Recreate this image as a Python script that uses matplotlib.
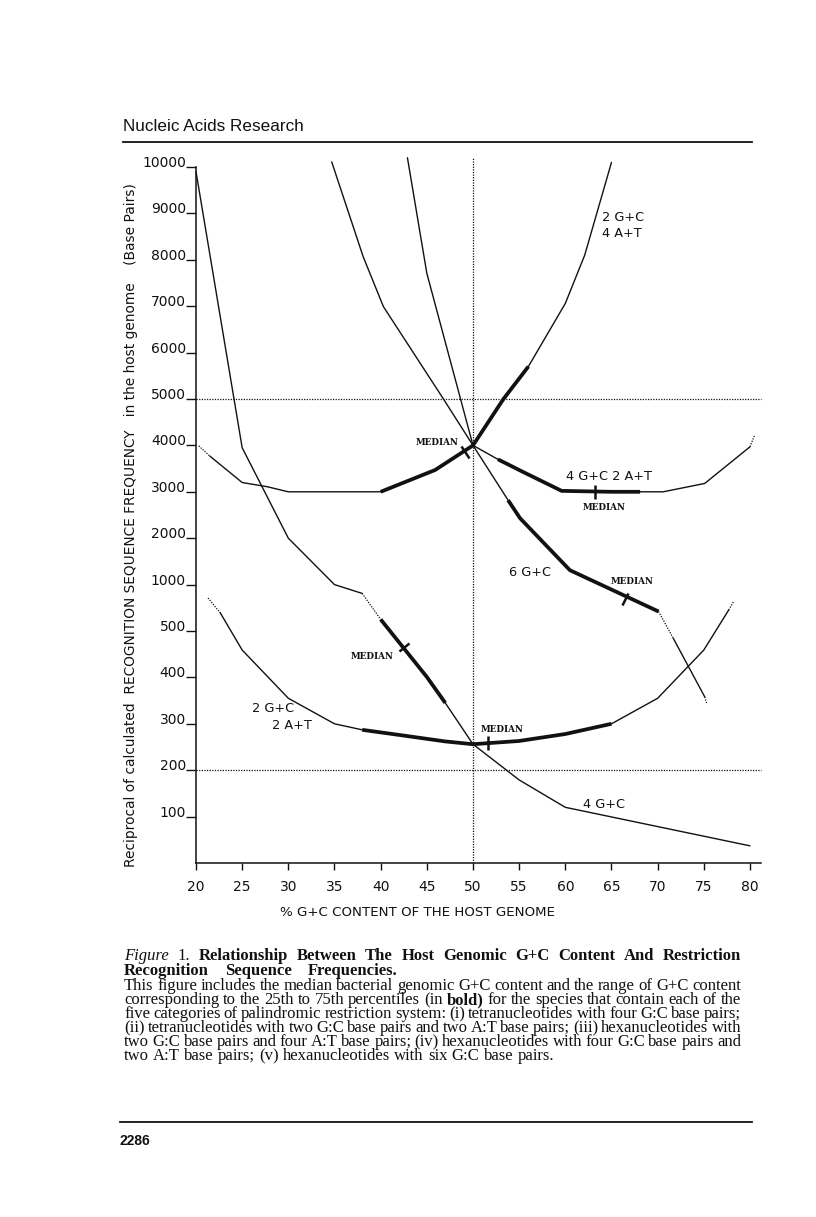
#!/usr/bin/env python3
"""Redraw Figure 1: host genomic G+C content vs. recognition sequence frequency."""

import math

import matplotlib

matplotlib.use("Agg")
import matplotlib.pyplot as plt
import numpy as np
from matplotlib.lines import Line2D
from matplotlib.markers import MarkerStyle
from matplotlib.transforms import Affine2D

W, H = 816, 1217

# --- data: % G+C content vs. reciprocal frequency (bp) ---
GC4_X = [20, 25, 30, 35, 38, 40, 45, 47, 50, 55, 60, 80]
GC4_Y = [9900, 3950, 2000, 1000, 905, 625, 401, 345, 256, 179, 120, 37]
GC4_BOLD = (40, 47)
GC4_DOTTED = [(38, 40)]
GC4_MEDIAN = (42.5, 466)

GC2AT2_X = [21.3, 22.6, 25, 30, 35, 38, 42, 47, 50, 55, 60, 65, 70, 75, 77.7, 78.2]
GC2AT2_Y = [855, 700, 459, 355, 300, 287, 276, 262, 256, 263, 278, 300, 355, 459, 727, 815]
GC2AT2_BOLD = (38, 65)
GC2AT2_DOTTED = [(21.3, 22.6), (77.7, 78.2)]
GC2AT2_MEDIAN = (51.6, 258)

GC2AT4_X = [20.3, 21.5, 25, 27.7, 30, 35, 40, 45.9, 50, 53.3, 56, 60, 62.1, 65]
GC2AT4_Y = [3990, 3770, 3200, 3110, 3000, 3000, 3000, 3470, 4000, 5000, 5700, 7060, 8100, 10100]
GC2AT4_BOLD = (40, 56)
GC2AT4_DOTTED = [(20.3, 21.5)]
GC2AT4_MEDIAN = (49.1, 3860)

GC4AT2_X = [34.7, 38.1, 40.3, 46.8, 50, 52.7, 55.4, 59.6, 65, 68.1, 70.6, 75.1, 80, 80.5]
GC4AT2_Y = [10110, 8070, 6990, 5000, 4000, 3700, 3430, 3020, 3000, 3000, 3000, 3180, 3970, 4220]
GC4AT2_BOLD = (52.7, 68.1)
GC4AT2_DOTTED = [(80, 80.5)]
GC4AT2_MEDIAN = (63.2, 3000)

GC6_X = [42.9, 45, 50, 53.8, 55.1, 60.5, 70.1, 71.7, 75.1, 75.3]
GC6_Y = [10200, 7710, 4000, 2820, 2430, 1310, 710, 484, 358, 345]
GC6_BOLD = (53.8, 70.1)
GC6_DOTTED = [(70.1, 71.7), (75.1, 75.3)]
GC6_MEDIAN = (66.5, 850)

X_TICKS = list(range(20, 81, 5))
Y_TICKS = [100, 200, 300, 400, 500, 1000, 2000, 3000, 4000, 5000,
           6000, 7000, 8000, 9000, 10000]
REF_Y = [5000, 200]
REF_X = 50

CAPTION = [
    "Figure 1. Relationship Between The Host Genomic G+C Content And Restriction",
    "Recognition Sequence Frequencies.",
    "This figure includes the median bacterial genomic G+C content and the range of G+C content",
    "corresponding to the 25th to 75th percentiles (in bold) for the species that contain each of the",
    "five categories of palindromic restriction system: (i) tetranucleotides with four G:C base pairs;",
    "(ii) tetranucleotides with two G:C base pairs and two A:T base pairs; (iii) hexanucleotides with",
    "two G:C base pairs and four A:T base pairs; (iv) hexanucleotides with four G:C base pairs and",
    "two A:T base pairs; (v) hexanucleotides with six G:C base pairs.",
]

THIN = dict(color="#111111", lw=1.0, solid_capstyle="round")
BOLD = dict(color="#111111", lw=2.7, solid_capstyle="butt")
DOTS = dict(color="#111111", lw=0.9, ls=(0, (1, 1.1)))
SANS = "DejaVu Sans"
SERIF = "Liberation Serif"


def fwd(v):
    # the original axis is stretched in three linear pieces
    v = np.asarray(v, dtype=float)
    return np.where(v <= 500, v / 100,
                    np.where(v <= 1000, 5 + (v - 500) / 500, 6 + (v - 1000) / 1000))


def inv(i):
    i = np.asarray(i, dtype=float)
    return np.where(i <= 5, i * 100,
                    np.where(i <= 6, 500 + (i - 5) * 500, 1000 + (i - 6) * 1000))


def fx(px):
    return px / W


def fy(py):
    return 1 - py / H


def draw_curve(ax, xs, ys, bold, dotted):
    styles = []
    for a, b in zip(xs[:-1], xs[1:]):
        mid = (a + b) / 2
        if bold[0] <= mid <= bold[1]:
            styles.append("bold")
        elif any(lo <= mid <= hi for lo, hi in dotted):
            styles.append("dots")
        else:
            styles.append("thin")
    kw = {"thin": THIN, "bold": BOLD, "dots": DOTS}
    start = 0
    for i in range(1, len(styles) + 1):
        if i == len(styles) or styles[i] != styles[start]:
            ax.plot(xs[start:i + 1], ys[start:i + 1], clip_on=False, **kw[styles[start]])
            start = i


def draw_median(ax, xs, ys, median, label_xy):
    mx, my = median
    for i in range(len(xs) - 1):
        if xs[i] <= mx <= xs[i + 1]:
            break
    p0 = ax.transData.transform((xs[i], ys[i]))
    p1 = ax.transData.transform((xs[i + 1], ys[i + 1]))
    angle = math.degrees(math.atan2(p1[1] - p0[1], p1[0] - p0[0]))
    marker = MarkerStyle("|", transform=Affine2D().rotate_deg(angle))
    ax.plot([mx], [my], marker=marker, ms=10, mew=1.8, color="#111111", clip_on=False)
    ax.text(*label_xy, "MEDIAN", fontsize=6.3, family="DejaVu Serif", weight="bold",
            ha="center", va="center", color="#111111")


def caption_line(fig, renderer, text, base_py, x0, x1, weight, size):
    words = text.split(" ")
    arts = []
    for w in words:
        wt, st = weight, "normal"
        if w == "Figure":
            wt, st = "normal", "italic"
        elif w == "1.":
            wt = "normal"
        elif w == "bold)":
            wt = "bold"
        arts.append(fig.text(0, fy(base_py), w, family=SERIF, fontsize=size,
                             weight=wt, style=st, va="baseline", color="#111111"))
    widths = [a.get_window_extent(renderer).width for a in arts]
    if x1 is None:
        gap = 0.25 * size * 100 / 72
    else:
        gap = (x1 - x0 - sum(widths)) / (len(words) - 1)
    x = x0
    for a, w in zip(arts, widths):
        a.set_x(fx(x))
        x += w + gap


def main():
    fig = plt.figure(figsize=(W / 100, H / 100), dpi=100)
    fig.patch.set_facecolor("white")

    top_idx = 15.2
    left, right = 196, 196 + 61.2 * 9.233
    bottom, top = 863, 863 - top_idx * 46.4
    ax = fig.add_axes([fx(left), fy(bottom), (right - left) / W, (bottom - top) / H])
    ax.set_yscale("function", functions=(fwd, inv))
    ax.set_xlim(20, 81.2)
    ax.set_ylim(0, float(inv(top_idx)))

    for side in ("top", "right"):
        ax.spines[side].set_visible(False)
    for side in ("left", "bottom"):
        ax.spines[side].set_linewidth(1.1)
        ax.spines[side].set_color("#111111")
    ax.spines["left"].set_bounds(0, 10000)
    ax.spines["bottom"].set_bounds(20, 81.2)

    ax.set_xticks(X_TICKS)
    ax.set_xticklabels([str(v) for v in X_TICKS])
    ax.set_yticks(Y_TICKS)
    ax.set_yticklabels([str(v) for v in Y_TICKS])
    ax.yaxis.set_minor_locator(matplotlib.ticker.NullLocator())
    ax.tick_params(axis="y", direction="out", length=7.2, width=1.0, pad=0,
                   labelsize=10, colors="#111111")
    ax.tick_params(axis="x", direction="out", length=5, width=1.0, pad=7,
                   labelsize=10, colors="#111111")
    for lab in ax.get_yticklabels():
        lab.set_verticalalignment("baseline")
        lab.set_family(SANS)

    for yv in REF_Y:
        ax.plot([20, 81.2], [yv, yv], clip_on=False, **DOTS)
    ax.plot([REF_X, REF_X], [0, float(inv(top_idx))], clip_on=False, **DOTS)

    curves = [
        (GC4_X, GC4_Y, GC4_BOLD, GC4_DOTTED, GC4_MEDIAN, (39.06, 446)),
        (GC2AT2_X, GC2AT2_Y, GC2AT2_BOLD, GC2AT2_DOTTED, GC2AT2_MEDIAN, (53.14, 287)),
        (GC2AT4_X, GC2AT4_Y, GC2AT4_BOLD, GC2AT4_DOTTED, GC2AT4_MEDIAN, (46.16, 4060)),
        (GC4AT2_X, GC4AT2_Y, GC4AT2_BOLD, GC4AT2_DOTTED, GC4AT2_MEDIAN, (64.19, 2670)),
        (GC6_X, GC6_Y, GC6_BOLD, GC6_DOTTED, GC6_MEDIAN, (67.22, 1060)),
    ]
    for xs, ys, bold, dotted, median, lab_xy in curves:
        draw_curve(ax, xs, ys, bold, dotted)
        draw_median(ax, xs, ys, median, lab_xy)

    lab = dict(fontsize=9.3, family=SANS, color="#111111", va="center")
    ax.text(63.97, 8920, "2 G+C", ha="left", **lab)
    ax.text(63.97, 8560, "4 A+T", ha="left", **lab)
    ax.text(64.73, 3320, "4 G+C 2 A+T", ha="center", **lab)
    ax.text(56.17, 1255, "6 G+C", ha="center", **lab)
    ax.text(28.34, 334, "2 G+C", ha="center", **lab)
    ax.text(30.4, 297, "2 A+T", ha="center", **lab)
    ax.text(64.19, 127, "4 G+C", ha="center", **lab)

    fig.text(fx(131), fy(525),
             "Reciprocal of calculated  RECOGNITION SEQUENCE FREQUENCY   "
             "in the host genome    (Base Pairs)",
             rotation=90, ha="center", va="center", fontsize=9.9, family=SANS,
             color="#111111")
    fig.text(fx(418), fy(912), "% G+C CONTENT OF THE HOST GENOME", ha="center",
             va="center", fontsize=9.6, family=SANS, color="#111111")

    # page furniture
    fig.text(fx(123), fy(131), "Nucleic Acids Research", family="Liberation Sans",
             fontsize=12.3, va="baseline", color="#111111")
    fig.add_artist(Line2D([fx(123), fx(752)], [fy(141.5), fy(141.5)], lw=1.3, color="#111111"))
    fig.add_artist(Line2D([fx(120), fx(752)], [fy(1121.5), fy(1121.5)], lw=1.3, color="#111111"))
    fig.text(fx(120), fy(1145), "2286", family="Liberation Sans", weight="bold",
             fontsize=10, va="baseline", color="#111111")

    renderer = fig.canvas.get_renderer()
    bases = [960, 975, 990, 1004, 1018, 1032, 1046, 1060]
    rights = [741, 398, 741, 741, 741, 741, 741, None]
    for i, (text, base, x1) in enumerate(zip(CAPTION, bases, rights)):
        weight = "bold" if i < 2 else "normal"
        caption_line(fig, renderer, text, base, 124, x1, weight, 12)

    fig.savefig("out.png", dpi=100, facecolor="white")
    plt.close(fig)


if __name__ == "__main__":
    main()
